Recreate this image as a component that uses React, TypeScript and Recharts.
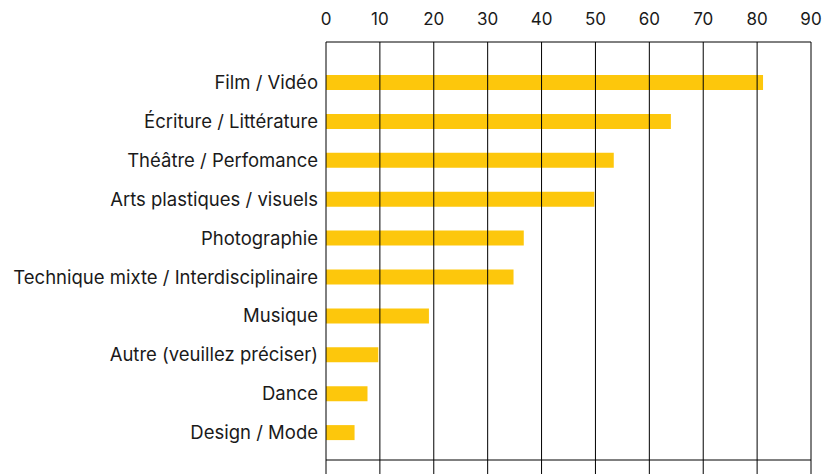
import { Bar, BarChart, CartesianGrid, ReferenceLine, XAxis, YAxis } from 'recharts'

// Disciplines, top to bottom, and share of respondents (%)
const categories = [
  'Film / Vidéo',
  'Écriture / Littérature',
  'Théâtre / Perfomance',
  'Arts plastiques / visuels',
  'Photographie',
  'Technique mixte / Interdisciplinaire',
  'Musique',
  'Autre (veuillez préciser)',
  'Dance',
  'Design / Mode',
]
const values = [81.1, 64.0, 53.4, 49.8, 36.7, 34.8, 19.1, 9.7, 7.7, 5.3]
const xTicks = [0, 10, 20, 30, 40, 50, 60, 70, 80, 90]

const INK = '#1a1a1a'
const FONT = 'Inter, "Liberation Sans", sans-serif'

export default function App() {
  const data = categories.map((name, i) => ({ name, value: values[i] }))

  return (
    <div style={{ position: 'absolute', left: 0, top: 0, fontFamily: FONT }}>
      <BarChart
        width={833}
        height={474}
        data={data}
        layout="vertical"
        margin={{ top: 0, right: 22, bottom: 0, left: 0 }}
      >
        {/* bottom frame line sits 14px above the chart's lower edge;
            the verticals run past it to the bottom */}
        <CartesianGrid
          xAxisId="top"
          vertical={false}
          stroke="#000"
          strokeDasharray=""
          horizontalCoordinatesGenerator={({ offset }: any) => [
            offset.top + offset.height - 14,
          ]}
        />
        <XAxis
          xAxisId="top"
          orientation="top"
          type="number"
          domain={[0, 90]}
          ticks={xTicks}
          height={42}
          axisLine={{ stroke: '#000', strokeWidth: 1 }}
          tickLine={false}
          tickSize={6}
          tickMargin={11}
          tick={{ fill: INK, fontSize: 17, fontFamily: FONT }}
          interval={0}
        />
        <YAxis
          type="category"
          dataKey="name"
          width={326}
          axisLine={false}
          tickLine={false}
          tickSize={0}
          tickMargin={8}
          padding={{ top: 21, bottom: 22 }}
          tick={{ fill: INK, fontSize: 18.5, fontFamily: FONT }}
          interval={0}
        />
        <Bar
          xAxisId="top"
          dataKey="value"
          fill="#FDC70C"
          barSize={15}
          isAnimationActive={false}
        />
        {xTicks.map((t) => (
          <ReferenceLine
            key={t}
            xAxisId="top"
            x={t}
            stroke="#000"
            strokeWidth={1}
          />
        ))}
      </BarChart>
    </div>
  )
}
